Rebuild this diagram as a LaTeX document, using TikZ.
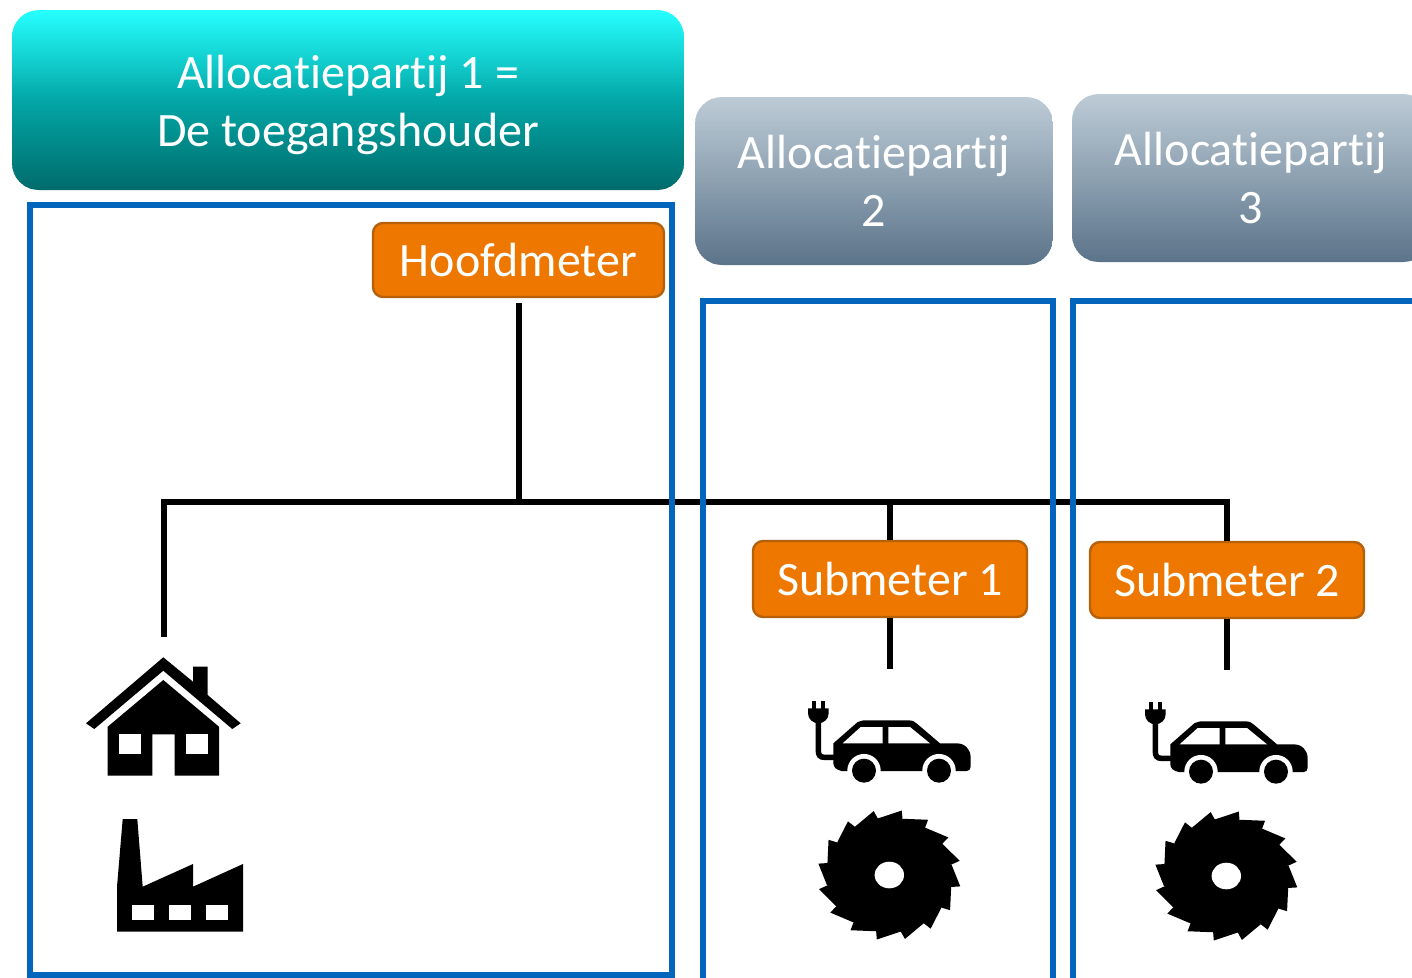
\documentclass[tikz,border=0pt]{standalone}
\usepackage{fontspec}
\setmainfont[Ligatures=CommonOff]{Carlito}
\definecolor{frameblue}{HTML}{0465BD}
\definecolor{meterfill}{HTML}{EE7700}
\definecolor{meterline}{HTML}{B5600A}
\definecolor{tealtop}{HTML}{26FFFF}
\definecolor{tealmid}{HTML}{03A6A6}
\definecolor{tealbot}{HTML}{006B6B}
\definecolor{greytop}{HTML}{BDCBD6}
\definecolor{greymid}{HTML}{8CA0B0}
\definecolor{greybot}{HTML}{5B7389}
\newcommand{\gradbox}[7]{%
  \begin{scope}
    \clip[rounded corners=27pt] (#1,#2) rectangle (#3,#4);
    \foreach \i in {0,...,49}{
      \pgfmathsetmacro{\ya}{#2+(#4-#2)/100*\i}
      \pgfmathsetmacro{\yb}{#2+(#4-#2)/100*(\i+1.5)}
      \pgfmathsetmacro{\yc}{#2+(#4-#2)/100*(\i+50)}
      \pgfmathsetmacro{\yd}{#2+(#4-#2)/100*(\i+51.5)}
      \pgfmathsetmacro{\pa}{100-2*\i}
      \fill[#5!\pa!#6] (#1,\ya) rectangle (#3,\yb);
      \fill[#6!\pa!#7] (#1,\yc) rectangle (#3,\yd);
    }
  \end{scope}
}
\tikzset{
  party/.style={inner sep=0pt,align=center,text=white,font=\fontsize{48}{58}\selectfont},
  meter/.style={draw=meterline,line width=2.4pt,fill=meterfill,rounded corners=10pt,text=white,inner sep=0pt,font=\fontsize{48}{50}\selectfont},
  frame/.style={draw=frameblue,line width=6pt},
  wire/.style={draw=black,line width=6pt},
  car/.pic={
    \begin{scope}[x=.3333pt,y=-.3333pt]
      \fill (130,190) -- (203,126) .. controls (210,121) and (212,121) .. (220,121) -- (355,121) .. controls (368,121) and (375,125) .. (382,132) -- (450,190) -- (500,190) .. controls (525,190) and (542,208) .. (542,232) -- (542,260) .. controls (542,268) and (537,273) .. (530,273) -- (155,273) .. controls (140,270) and (130,262) .. (130,250) -- cycle;
      \fill[white] (222,272) circle[x radius=16.7pt,y radius=16.7pt];
      \fill[white] (447,272) circle[x radius=16.7pt,y radius=16.7pt];
      \fill (222,272) circle[x radius=12pt,y radius=12pt];
      \fill (447,272) circle[x radius=12pt,y radius=12pt];
      \fill[white] (158,190) -- (212,141) -- (278,141) -- (278,190) -- cycle;
      \fill[white] (295,141) -- (360,141) -- (420,190) -- (295,190) -- cycle;
      \draw[line width=5.5pt] (132,232) -- (103,232) .. controls (90,232) and (85,225) .. (85,212) -- (85,120);
      \fill (54,85) -- (116,85) -- (116,100) .. controls (116,118) and (100,130) .. (85,130) .. controls (70,130) and (54,118) .. (54,100) -- cycle;
      \fill (65,62) rectangle (77,90);
      \fill (93,62) rectangle (105,90);
    \end{scope}
  },
  saw/.pic={
    \begin{scope}[x=1.1pt,y=1pt]
      \fill (0,0) ellipse[x radius=62pt,y radius=57pt];
      \foreach \t in {0,22.5,...,340}{
        \fill (0,0) -- ({80+\t+20.5}:57.5) -- ({80+\t}:65.5) -- ({80+\t-2}:57.5) -- cycle;
      }
      \fill[white] (0,0) ellipse[x radius=14.7pt,y radius=13.3pt];
    \end{scope}
  },
}
\begin{document}
\begin{tikzpicture}[x=1pt,y=-1pt]
\clip (0,0) rectangle (1412,977);
\fill[white] (0,0) rectangle (1412,977);

% party boxes
\gradbox{12}{10}{684}{190}{tealtop}{tealmid}{tealbot}
\gradbox{695}{97}{1053}{265}{greytop}{greymid}{greybot}
\gradbox{1072}{94}{1430}{262}{greytop}{greymid}{greybot}
\node[party,minimum width=672pt,minimum height=180pt] (p1) at (348,100) {\rule{0pt}{43pt}Allocatiepartij 1 =\\De toegangshouder};
\node[party,minimum width=358pt,minimum height=168pt] (p2) at (874,181) {Allocatiepartij\\2};
\node[party,minimum width=358pt,minimum height=168pt] (p3) at (1251,178) {Allocatiepartij\\3};

% meters
\node[meter,minimum width=291pt,minimum height=74pt] (hoofd) at (518.5,260) {Hoofdmeter};
\node[meter,minimum width=274pt,minimum height=76pt] (sub1) at (890,579) {Submeter 1};
\node[meter,minimum width=274pt,minimum height=76pt] (sub2) at (1227,580) {Submeter 2};

% connector end points
\coordinate (junction) at (hoofd.south |- 0,502.3);
\coordinate (houseTop) at (163.5,637);
\coordinate (rightEnd) at (sub2.north |- 0,502.3);
\coordinate (car1Top) at (sub1.south |- 0,669);
\coordinate (car2Top) at (sub2.south |- 0,670);

% connectors
\draw[wire] (hoofd.south) ++(0,5) -- (junction);
\draw[wire,line join=miter] (houseTop) -- (houseTop |- rightEnd) -- (rightEnd) -- (sub2.north);
\draw[wire] (sub1.north |- junction) -- (sub1.north);
\draw[wire] (sub1.south) -- (car1Top);
\draw[wire] (sub2.south) -- (car2Top);

% frames lie over the connectors
\draw[frame] (30,975) -- (30,205) -- (672.3,205) -- (672.3,975) -- cycle;
\draw[frame] (703.3,1000) -- (703.3,301) -- (1052.7,301) -- (1052.7,1000);
\draw[frame] (1073,1000) -- (1073,301) -- (1430,301);

% house
\fill (163.3,657.3) -- (193,681.7) -- (193,666.7) -- (207.7,666.7) -- (207.7,695) -- (240.7,723.3) -- (232.3,729) -- (163.3,670.7) -- (94.3,729) -- (86,723.3) -- cycle;
\fill (163.3,680) -- (219,726.7) -- (219,775.7) -- (174.7,775.7) -- (174.7,734.3) -- (152.3,734.3) -- (152.3,775.7) -- (107.7,775.7) -- (107.7,726.7) -- cycle;
\fill[white] (118.7,734.3) rectangle (141,754.3);
\fill[white] (185.7,734.3) rectangle (208,754.3);

% factory
\fill (117,931.7) -- (117,886.7) -- (122.7,819) -- (137.3,819) -- (142.7,886.7) -- (193,864) -- (193,886.7) -- (243,864) -- (243,931.7) -- cycle;
\fill[white] (131.7,905) rectangle (154,920);
\fill[white] (169,905) rectangle (191.3,920);
\fill[white] (206,905) rectangle (228.3,920);

% cars and saws
\pic at (790,680) {car};
\pic at (1127,681) {car};
\pic at (889.3,875) {saw};
\pic at (1226.3,876) {saw};
\end{tikzpicture}
\end{document}
